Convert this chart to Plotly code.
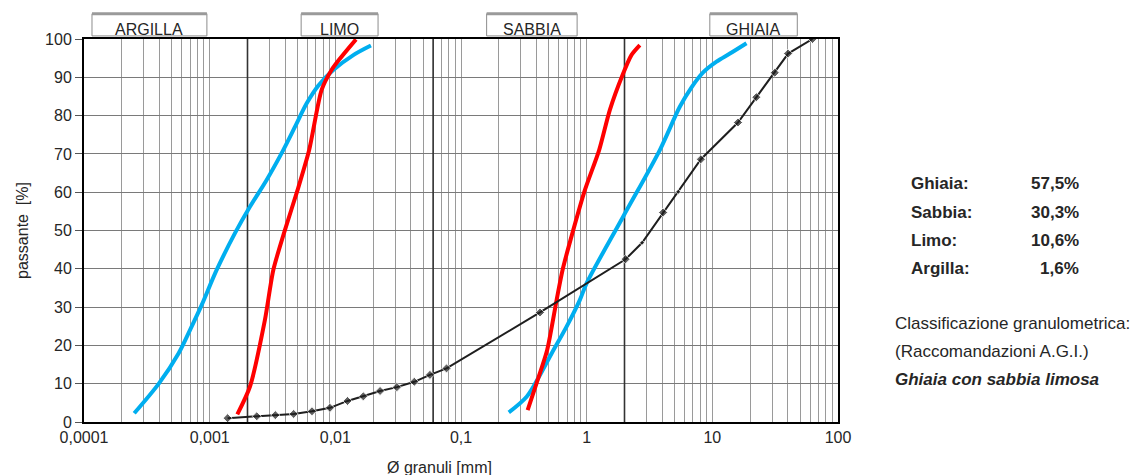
import plotly.graph_objects as go

# Curva granulometrica del campione (diametro in mm, passante in %)
campione_d = [0.00139, 0.00237, 0.00333, 0.00466, 0.00652, 0.00906, 0.0125, 0.0167,
              0.0227, 0.0309, 0.0425, 0.0566, 0.0767, 0.425, 2.04, 2.76, 4.06, 5.35,
              8.11, 16.0, 22.4, 31.4, 40.1, 62.7]
campione_p = [1.0, 1.5, 1.8, 2.1, 2.8, 3.7, 5.5, 6.7, 8.1, 9.1, 10.5, 12.3, 14.0,
              28.6, 42.5, 46.8, 54.7, 60.1, 68.6, 78.2, 84.8, 91.2, 96.2, 100.0]
# punti secondari lungo la curva (marcati più piccoli)
campione_secondari = [2.76, 5.35]

# Fuso rosso: tratto fine e tratto grosso
rosso_fine_d = [0.00166, 0.00209, 0.00275, 0.00321, 0.00397, 0.00501, 0.00619,
                0.00778, 0.00933, 0.0109, 0.0146]
rosso_fine_p = [2.0, 9.2, 26.6, 39.7, 50.1, 60.6, 71.0, 86.7, 91.9, 94.9, 99.9]
rosso_grosso_d = [0.339, 0.399, 0.485, 0.577, 0.643, 0.782, 0.969, 1.257, 1.53,
                  1.93, 2.27, 2.65]
rosso_grosso_p = [3.1, 10.1, 18.8, 31.9, 39.7, 50.1, 60.6, 71.0, 81.5, 90.6, 95.8, 98.4]

# Fuso azzurro: tratto fine e tratto grosso
azzurro_fine_d = [0.000251, 0.000395, 0.000565, 0.000697, 0.000863, 0.001137,
                  0.00159, 0.00209, 0.00284, 0.00385, 0.00478, 0.00592, 0.00731,
                  0.00962, 0.0139, 0.0192]
azzurro_fine_p = [2.3, 10.1, 17.9, 24.0, 30.5, 39.7, 49.3, 56.2, 63.2, 71.0, 77.1,
                  83.2, 87.8, 91.9, 95.8, 98.3]
azzurro_grosso_d = [0.240, 0.333, 0.411, 0.526, 0.692, 0.883, 0.998, 1.95, 3.82,
                    5.51, 6.83, 8.45, 10.8, 13.8, 18.7]
azzurro_grosso_p = [2.5, 6.6, 11.4, 17.9, 24.9, 31.9, 36.2, 53.6, 71.0, 82.3, 87.4,
                    91.3, 94.1, 96.2, 98.9]

# Limiti delle classi granulometriche (mm) e nomi
limiti_classi = [0.002, 0.06, 2.0]
classi = ["ARGILLA", "LIMO", "SABBIA", "GHIAIA"]

# Etichette dell'asse x (decadi)
decadi = [0.0001, 0.001, 0.01, 0.1, 1, 10, 100]
etichette_decadi = ["0,0001", "0,001", "0,01", "0,1", "1", "10", "100"]
y_ticks = [0, 10, 20, 30, 40, 50, 60, 70, 80, 90, 100]

# Composizione percentuale
frazioni = ["Ghiaia:", "Sabbia:", "Limo:", "Argilla:"]
percentuali = ["57,5%", "30,3%", "10,6%", "1,6%"]

FONT = "Liberation Sans, Arial, sans-serif"
TXT = "#262626"

# griglia logaritmica: 1..9 per ogni decade
grid_vals = []
grid_text = []
for dec, lab in zip(decadi[:-1], etichette_decadi[:-1]):
    for k in range(1, 10):
        grid_vals.append(dec * k)
        grid_text.append(lab if k == 1 else "")
grid_vals.append(decadi[-1])
grid_text.append(etichette_decadi[-1])

fig = go.Figure()

# linee marcate ai limiti delle classi
for lim in limiti_classi:
    fig.add_trace(go.Scatter(x=[lim, lim], y=[0, 100], mode="lines",
                             line=dict(color="#333333", width=1.6),
                             hoverinfo="skip", showlegend=False))

curve_style = dict(mode="lines", showlegend=False, hoverinfo="skip")
fig.add_trace(go.Scatter(x=azzurro_fine_d, y=azzurro_fine_p,
                         line=dict(color="#00AEEF", width=4, shape="spline", smoothing=0.9),
                         **curve_style))
fig.add_trace(go.Scatter(x=azzurro_grosso_d, y=azzurro_grosso_p,
                         line=dict(color="#00AEEF", width=4, shape="spline", smoothing=0.9),
                         **curve_style))
fig.add_trace(go.Scatter(x=rosso_fine_d, y=rosso_fine_p,
                         line=dict(color="#FF0000", width=4, shape="spline", smoothing=0.7),
                         **curve_style))
fig.add_trace(go.Scatter(x=rosso_grosso_d, y=rosso_grosso_p,
                         line=dict(color="#FF0000", width=4, shape="spline", smoothing=0.7),
                         **curve_style))

marker_sizes = [4 if d in campione_secondari else 7 for d in campione_d]
fig.add_trace(go.Scatter(x=campione_d, y=campione_p, mode="lines+markers",
                         line=dict(color="#1e1e1e", width=2),
                         marker=dict(symbol="diamond", size=marker_sizes, color="#1e1e1e"),
                         showlegend=False, hoverinfo="skip"))

fig.update_xaxes(type="log", range=[-4, 2], tickmode="array",
                 tickvals=grid_vals, ticktext=grid_text,
                 showgrid=True, gridcolor="#9a9a9a", gridwidth=1,
                 showline=True, linecolor="black", linewidth=2, mirror=True,
                 ticks="", tickfont=dict(family=FONT, size=16, color=TXT),
                 zeroline=False)
fig.update_yaxes(range=[0, 100], tickmode="array", tickvals=y_ticks,
                 showgrid=True, gridcolor="#7a7a7a", gridwidth=1,
                 showline=True, linecolor="black", linewidth=2, mirror=True,
                 ticks="outside", ticklen=7, tickcolor="#555",
                 tickfont=dict(family=FONT, size=16, color=TXT),
                 title=dict(text="passante  [%]", font=dict(family=FONT, size=16, color=TXT),
                            standoff=12),
                 zeroline=False)

# riquadri delle classi sopra il grafico
box_x = [(0.0106, 0.163), (0.288, 0.390), (0.534, 0.654), (0.830, 0.946)]
shapes = []
annotations = []
for nome, (x0, x1) in zip(classi, box_x):
    shapes.append(dict(type="rect", xref="paper", yref="paper", x0=x0, x1=x1,
                       y0=1.008, y1=1.066, line=dict(color="#8c8c8c", width=1),
                       fillcolor="white", layer="above"))
    shapes.append(dict(type="line", xref="paper", yref="paper", x0=x0, x1=x1,
                       y0=1.066, y1=1.066, line=dict(color="#9a9a9a", width=3)))
    annotations.append(dict(text=nome, xref="paper", yref="paper",
                            x=(x0 + x1) / 2, y=1.025, xanchor="center", yanchor="middle",
                            showarrow=False, font=dict(family=FONT, size=16, color=TXT)))

# titolo asse x
annotations.append(dict(text="Ø granuli [mm]", xref="paper", yref="paper",
                        x=0.472, y=-0.12, xanchor="center", yanchor="middle",
                        showarrow=False, font=dict(family=FONT, size=16, color=TXT)))

# composizione a destra
righe_y = [0.624, 0.548, 0.475, 0.402]
for fr, pc, yy in zip(frazioni, percentuali, righe_y):
    annotations.append(dict(text="<b>%s</b>" % fr, xref="paper", yref="paper",
                            x=1.094, y=yy, xanchor="left", yanchor="middle",
                            showarrow=False, font=dict(family=FONT, size=17, color=TXT)))
    annotations.append(dict(text="<b>%s</b>" % pc, xref="paper", yref="paper",
                            x=1.322, y=yy, xanchor="right", yanchor="middle",
                            showarrow=False, font=dict(family=FONT, size=17, color=TXT)))

classificazione = ["Classificazione granulometrica:", "(Raccomandazioni A.G.I.)",
                   "<b><i>Ghiaia con sabbia limosa</i></b>"]
for testo, yy in zip(classificazione, [0.258, 0.183, 0.110]):
    annotations.append(dict(text=testo, xref="paper", yref="paper",
                            x=1.073, y=yy, xanchor="left", yanchor="middle",
                            showarrow=False, font=dict(family=FONT, size=17, color=TXT)))

fig.update_layout(width=1145, height=475,
                  margin=dict(l=84, r=307, t=39, b=53),
                  paper_bgcolor="white", plot_bgcolor="white",
                  shapes=shapes, annotations=annotations,
                  showlegend=False)

fig.write_html("out.html")
